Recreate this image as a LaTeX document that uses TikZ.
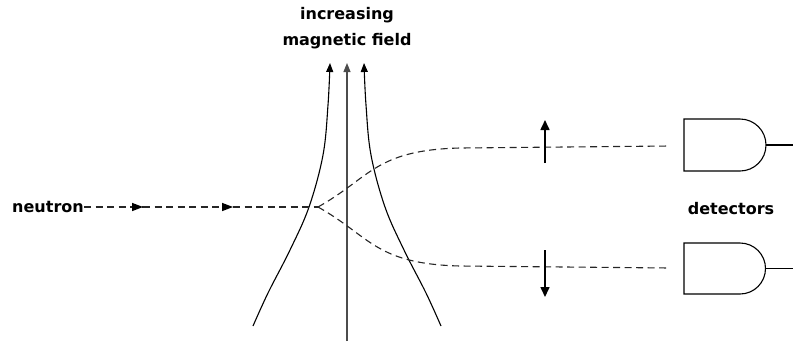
\documentclass[tikz,border=0pt]{standalone}
\usepackage{fontspec}
\setmainfont{DejaVu Sans}
\usetikzlibrary{arrows.meta}
\begin{document}
\begin{tikzpicture}[x=1pt,y=-1pt,
  lbl/.style={font=\fontsize{16}{18}\selectfont\bfseries, inner sep=0pt},
  fieldline/.style={line width=1.1pt, -{Triangle[length=9pt,width=7pt]}},
  beam/.style={line width=1.1pt, dash pattern=on 7pt off 4.5pt, draw=black!85},
  spin/.style={line width=1.6pt, -{Triangle[length=10pt,width=9pt]}},
  detbox/.style={line width=1.1pt}]
\useasboundingbox (0,0) rectangle (793,341);
% labels
\node[lbl, anchor=east] (neutron) at (84,207) {neutron};
\node[lbl] (inc) at (347,15) {increasing};
\node[lbl] (mag) at (347,41) {magnetic field};
\node[lbl] (det) at (731,209) {detectors};
% coordinates
\coordinate (m1) at (143,207);
\coordinate (m2) at (233,207);
\coordinate (split) at (318,207);
\coordinate (upend) at (670,146);
\coordinate (loend) at (670,268);
% field lines
\draw[fieldline] plot[smooth, tension=0.6] coordinates {(253,326) (268,293) (290,250) (309,207) (323,155) (328,105) (330,63)};
\draw[fieldline] plot[smooth, tension=0.6] coordinates {(441,326) (426,293) (404,250) (385,207) (371,155) (366,105) (364,63)};
\draw[fieldline, draw=black!70] (347,341) -- (347,63);
% beam
\draw[beam] (neutron.east) -- (m1);
\draw[beam] (m1) -- (m2);
\draw[beam] (m2) -- (split);
\fill (m1) ++(-11,-4.2) -- (m1) -- ++(-11,4.2) -- cycle;
\fill (m2) ++(-11,-4.2) -- (m2) -- ++(-11,4.2) -- cycle;
\draw[beam] (split) .. controls (370,178) and (375,150) .. (460,148) -- (upend);
\draw[beam] (split) .. controls (370,236) and (375,264) .. (460,266) -- (loend);
% spins
\coordinate (su0) at (545,163);
\coordinate (su1) at (545,120);
\coordinate (sd0) at (545,250);
\coordinate (sd1) at (545,297);
\draw[spin] (su0) -- (su1);
\draw[spin] (sd0) -- (sd1);
% detectors
\draw[detbox] (684,145) -- (684,171) -- (740,171) arc[start angle=90, end angle=-90, radius=26] -- (684,119) -- cycle;
\coordinate (uout) at (766,145);
\draw[detbox] (uout) -- (793,145);
\draw[detbox] (684,268.5) -- (684,294) -- (740,294) arc[start angle=90, end angle=-90, radius=25.5] -- (684,243) -- cycle;
\coordinate (lout) at (765.5,268.5);
\draw[detbox] (lout) -- (793,268.5);
\end{tikzpicture}
\end{document}
